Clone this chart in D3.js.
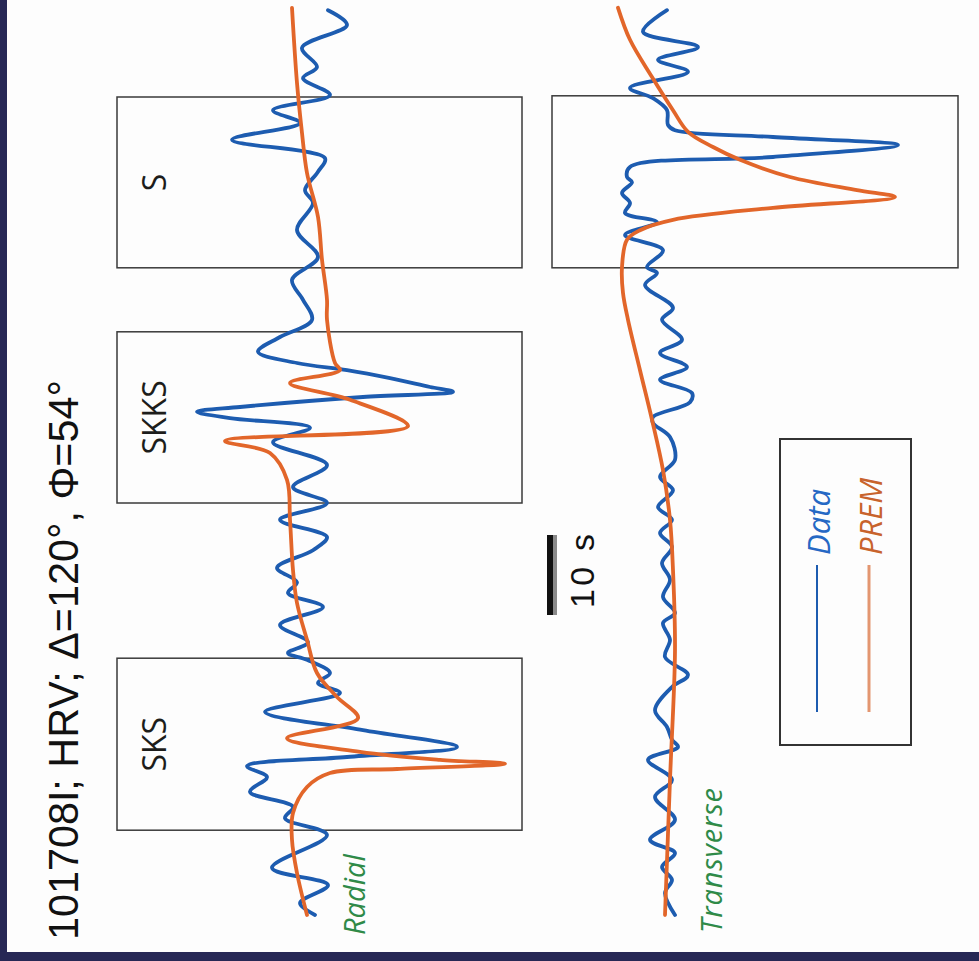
<!DOCTYPE html>
<html>
<head>
<meta charset="utf-8">
<script src="https://cdn.jsdelivr.net/npm/d3@7"></script>
<style>
  body { margin: 0; background: #fdfdfd; }
  svg { display: block; }
</style>
</head>
<body>
<svg id="fig" width="979" height="961"></svg>
<script>
// time (s) / amplitude (arb. units)
const radialData = [
  [0, 3], [1.5, 0], [3.75, 5.6], [5.9, -5.6], [10, 5.4], [12.1, -3], [13.5, -1.4],
  [15.4, -10], [17.25, -6.6], [18.6, -10.6], [19.75, 9.4], [21, 31.4], [23.1, 12.6],
  [25.4, -7], [27.75, 8], [29, 3.6], [30.25, 6], [31.9, 1.4], [32.75, -2.4], [34.1, 1.6],
  [36.25, -4], [38.5, 4.6], [40.25, -2.4], [41.6, -0.6], [43.4, -4.6], [45.6, 2.6],
  [47.25, 5.4], [49.4, -4], [51.5, 5.4], [53.5, -1.4], [56.25, 5.4], [59.1, -5.4],
  [60.9, 2], [62.1, -14], [62.9, -20.6], [63.5, -12], [64.75, 12.6], [65.4, 30.6],
  [66, 26], [67.1, 18], [68.1, 9.4], [69, -0.6], [70.4, -8.4], [72.25, -4], [74.4, 2.4],
  [76.9, 0.6], [79.4, -1.6], [82.25, 3.6], [85.6, -0.6], [89, 2.6], [90.6, 1],
  [92.9, 3.6], [94.6, 5], [96.9, -13.6], [99, 0], [100.6, -5.4], [102.5, 6],
  [104.6, 0.6], [106, 3.4], [108.4, 0.4], [111.25, 9.4], [113.1, 5.6]
];
const radialPrem = [
  [0, 1.4], [5.25, -0.6], [9.4, -1.6], [12.75, -1.4], [16, 1.4], [17.75, 6],
  [18.25, 19.4], [18.9, 41], [19.4, 28], [20.4, 12], [22.1, -2.6], [24.6, 11.6],
  [27.25, 7.4], [30.25, 3.4], [34.4, 1.4], [39, -0.6], [43.1, -1.4], [49.4, -2],
  [54.4, -2.6], [57.75, -6], [59.25, -15], [61.1, 21.6], [64.4, 10], [66.5, -2],
  [68.1, 8], [69, 7], [74.4, 5.4], [76.9, 5.4], [81.9, 4.4], [87.25, 3.6],
  [92.75, 1.4], [97.75, 0.4], [104, -0.6], [113.4, -1.6]
];
const transData = [
  [0, 3], [2.75, 1], [4.4, 2.4], [6, 0.4], [7.75, 3], [9.4, -2], [11.9, 3],
  [14.75, -1], [16.9, 2.4], [19.4, -2.4], [21, 3.6], [21.9, 2.4], [23.5, 1.4],
  [25.6, -1], [28.5, 2.4], [30, 5.6], [32.25, 1], [34.4, 2], [36.5, 0.6], [37.75, 3],
  [39.75, 0.6], [41.9, 2], [44, 0.4], [46, 2.4], [47.75, 0], [49.4, 2.4], [51, -0.4],
  [53.1, 2.6], [54.75, 0], [56.9, 3], [59.75, 2], [61.5, -1.4], [62.25, -1.4],
  [64.1, 6], [65.25, 6.4], [66.9, 0], [68.5, 5.4], [70.25, 0], [71.9, 4.4],
  [74.4, 0.4], [75.9, 2.6], [78.75, -3], [80.25, -0.6], [81, -2.6], [83.1, 0.6],
  [85, -7], [86.6, -0.6], [87.75, -7], [89, -6], [90.25, -7.6], [91.6, -5.6],
  [92.25, -6.6], [93.5, -6], [94.75, 22.6], [96.25, 47.6], [97.25, 22.6], [98.1, 3],
  [98.75, 1.6], [100.6, 1.4], [102.1, -1.4], [103.4, -6], [105.4, 5.6], [106.9, -0.4],
  [108.5, 7.6], [110.4, -3.4], [113.1, 1.4]
];
const transPrem = [
  [0, 1], [16.9, 2], [33.1, 3], [43.1, 2.6], [49.4, 2], [55.6, 0.6], [61.9, -1.6],
  [68.1, -4], [74.4, -6.4], [77.75, -7.4], [81, -7.6], [84.4, -6.6], [85.6, -4],
  [86.9, 2.6], [88.4, 22.6], [89.75, 47], [90.6, 39.4], [92.25, 26], [94.4, 16],
  [96, 10.6], [97.9, 5.6], [100.6, 2.6], [104.75, -1.6], [109.4, -6], [113.4, -8.4]
];

const radialPhases = ["SKS", "SKKS", "S"];
const radialWindows = [[10.6, 32.1], [51.5, 72.9], [80.9, 102.25]];
const transPhases = [""];
const transWindows = [[80.9, 102.4]];
const legendLabels = ["Data", "PREM"];
const scaleBarSeconds = [37.5, 47.5];
const titleText = "101708I; HRV; \u0394=120\u00b0, \u03a6=54\u00b0";

const W = 979, H = 961;
const blue = "#1d5cb0", orange = "#e2662a", green = "#2f8a48";

const svg = d3.select("#fig");

svg.append("rect").attr("width", W).attr("height", H).attr("fill", "#fdfdfd");

// whole figure is drawn sideways: inner x = time (screen up), inner y = screen x
const g = svg.append("g").attr("transform", `translate(0,${H}) rotate(-90)`);

const x = d3.scaleLinear().domain([0, 113.5]).range([46, 954]);
const yRad = d3.scaleLinear().domain([-36.6, 44.4]).range([117, 522]);
const yTr = d3.scaleLinear().domain([-21.6, 59.6]).range([552, 958]);

// phase windows
function windows(sel, cls, data, names, y) {
  sel.selectAll("." + cls)
    .data(data)
    .enter()
    .append("rect")
    .attr("class", cls)
    .attr("x", d => x(d[0]))
    .attr("width", d => x(d[1]) - x(d[0]))
    .attr("y", y.range()[0])
    .attr("height", y.range()[1] - y.range()[0])
    .attr("fill", "none")
    .attr("stroke", "#3a3a3a")
    .attr("stroke-width", 1.5);

  sel.selectAll("." + cls + "-lbl")
    .data(data)
    .enter()
    .append("text")
    .attr("class", cls + "-lbl")
    .attr("x", d => x((d[0] + d[1]) / 2))
    .attr("y", y.range()[0] + 49)
    .attr("text-anchor", "middle")
    .attr("font-family", "Open Sans, sans-serif")
    .attr("font-size", 32)
    .attr("fill", "#1d1d1b")
    .text((d, i) => names[i]);
}
windows(g, "win-rad", radialWindows, radialPhases, yRad);
windows(g, "win-tr", transWindows, transPhases, yTr);

const lineRad = d3.line()
  .x(d => x(d[0]))
  .y(d => yRad(d[1]))
  .curve(d3.curveCatmullRom.alpha(0.5));

const lineTr = d3.line()
  .x(d => x(d[0]))
  .y(d => yTr(d[1]))
  .curve(d3.curveCatmullRom.alpha(0.5));

const traces = [
  { d: radialData, gen: lineRad, color: blue },
  { d: transData, gen: lineTr, color: blue },
  { d: radialPrem, gen: lineRad, color: orange },
  { d: transPrem, gen: lineTr, color: orange }
];

g.selectAll(".trace")
  .data(traces)
  .enter()
  .append("path")
  .attr("class", "trace")
  .attr("d", d => d.gen(d.d))
  .attr("fill", "none")
  .attr("stroke", d => d.color)
  .attr("stroke-width", 3.8)
  .attr("stroke-linejoin", "round")
  .attr("stroke-linecap", "round");

// component labels
g.append("text")
  .attr("x", 26).attr("y", 365)
  .attr("font-family", "Open Sans, sans-serif")
  .attr("font-style", "italic")
  .attr("font-size", 29)
  .attr("fill", green)
  .text("Radial");

g.append("text")
  .attr("x", 28).attr("y", 722)
  .attr("font-family", "Open Sans, sans-serif")
  .attr("font-style", "italic")
  .attr("font-size", 29)
  .attr("textLength", 145)
  .attr("fill", green)
  .text("Transverse");

// title
g.append("text")
  .attr("x", 21).attr("y", 78)
  .attr("font-family", "Liberation Sans Narrow, Arial Narrow, Liberation Sans, sans-serif")
  .attr("font-size", 42)
  .attr("textLength", 560)
  .attr("lengthAdjust", "spacingAndGlyphs")
  .attr("fill", "#111")
  .text(titleText);

// 10 s scale bar
g.append("rect")
  .attr("x", x(scaleBarSeconds[0]))
  .attr("width", x(scaleBarSeconds[1]) - x(scaleBarSeconds[0]))
  .attr("y", 547).attr("height", 6)
  .attr("fill", "#111");
g.append("rect")
  .attr("x", x(scaleBarSeconds[0]))
  .attr("width", x(scaleBarSeconds[1]) - x(scaleBarSeconds[0]))
  .attr("y", 553).attr("height", 4)
  .attr("fill", "#8a8a8a");

g.append("text")
  .attr("x", 353).attr("y", 594)
  .attr("font-family", "Liberation Sans, Arial, sans-serif")
  .attr("font-size", 34)
  .attr("textLength", 74)
  .attr("fill", "#111")
  .text("10 s");

// legend
g.append("rect")
  .attr("x", 216).attr("y", 780)
  .attr("width", 306).attr("height", 131)
  .attr("fill", "none")
  .attr("stroke", "#333")
  .attr("stroke-width", 2);

const legColors = [blue, "#e39670"];
const legText = ["#2568c4", "#c8632c"];

g.selectAll(".leg-line")
  .data(legendLabels)
  .enter()
  .append("line")
  .attr("class", "leg-line")
  .attr("x1", 249).attr("x2", 396)
  .attr("y1", (d, i) => 817 + i * 52)
  .attr("y2", (d, i) => 817 + i * 52)
  .attr("stroke", (d, i) => legColors[i])
  .attr("stroke-width", (d, i) => i ? 3 : 2);

g.selectAll(".leg-txt")
  .data(legendLabels)
  .enter()
  .append("text")
  .attr("class", "leg-txt")
  .attr("x", 406)
  .attr("y", (d, i) => 830 + i * 52)
  .attr("font-family", "Open Sans, sans-serif")
  .attr("font-style", "italic")
  .attr("font-size", 31)
  .attr("fill", (d, i) => legText[i])
  .text(d => d);

// dark frame edges
svg.append("rect").attr("x", 0).attr("y", 0).attr("width", 7).attr("height", H).attr("fill", "#272855");
svg.append("rect").attr("x", 0).attr("y", 952).attr("width", W).attr("height", 9).attr("fill", "#272855");
</script>
</body>
</html>
